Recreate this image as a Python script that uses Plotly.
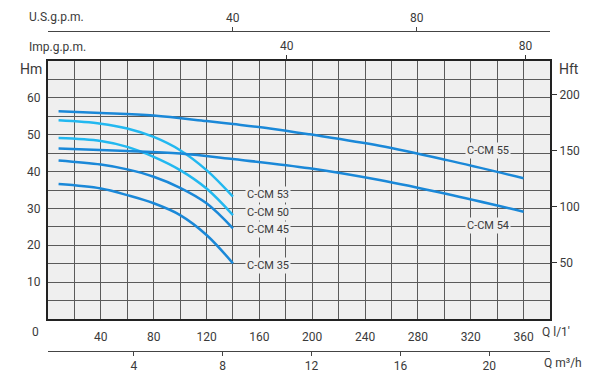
import plotly.graph_objects as go

# ---- data (Q in l/min, H in m) ----
q_short = [8, 40, 60, 80, 100, 120, 140]
h_ccm53 = [53.9, 53.0, 51.7, 49.4, 45.8, 40.4, 33.2]
h_ccm50 = [49.1, 48.3, 46.7, 44.0, 40.4, 35.4, 28.2]
h_ccm45 = [43.0, 41.9, 40.6, 38.6, 35.6, 31.4, 24.6]
h_ccm35 = [36.6, 35.4, 33.6, 31.4, 28.2, 22.8, 15.1]

q_ccm55 = [8, 40, 80, 120, 140, 168, 198, 251, 302, 360]
h_ccm55 = [56.35, 55.9, 55.2, 53.7, 52.9, 51.7, 50.1, 47.0, 43.1, 38.2]
q_ccm54 = [8, 60, 100, 140, 198, 251, 302, 360]
h_ccm54 = [46.25, 45.6, 44.9, 43.4, 40.9, 37.7, 33.9, 29.1]

q_ticks = list(range(0, 381, 20))
q_labels = [str(v) if (v % 40 == 0 and 0 < v <= 360) else "" for v in q_ticks]
h_ticks = list(range(0, 71, 5))
h_labels = [str(v) if (v % 10 == 0 and 10 <= v <= 60) else "" for v in h_ticks]
hft_ticks = [50, 100, 150, 200]
us_ticks = [40, 80]
imp_ticks = [40, 80]
m3h_ticks = [4, 8, 12, 16, 20]

# curve label positions (Q, H)
labels = [
    ("C-CM 53", 166.5, 33.9),
    ("C-CM 50", 166.5, 28.8),
    ("C-CM 45", 166.5, 24.4),
    ("C-CM 35", 166.5, 14.6),
    ("C-CM 55", 333, 45.8),
    ("C-CM 54", 333, 25.5),
]

DARK = "#1a88d8"
LIGHT = "#22b8f0"
BG = "#efefef"
TXT = "#3a3a3a"
FONT = "Roboto"

fig = go.Figure()
series = [
    (q_ccm55, h_ccm55, DARK),
    (q_short, h_ccm53, LIGHT),
    (q_short, h_ccm50, LIGHT),
    (q_ccm54, h_ccm54, DARK),
    (q_short, h_ccm45, DARK),
    (q_short, h_ccm35, DARK),
]
for q, h, c in series:
    fig.add_trace(go.Scatter(x=q, y=h, mode="lines",
                             line=dict(color=c, width=2.5, shape="spline"),
                             hoverinfo="skip", showlegend=False))

# empty traces so that the secondary scales are drawn
for xa, ya in [("x2", "y"), ("x3", "y"), ("x4", "y"), ("x", "y2")]:
    fig.add_trace(go.Scatter(x=[], y=[], xaxis=xa, yaxis=ya, mode="lines",
                             hoverinfo="skip", showlegend=False))

for text, q, h in labels:
    fig.add_annotation(x=q, y=h, xref="x", yref="y", text=text, showarrow=False,
                       font=dict(family=FONT, size=11, color=TXT),
                       bgcolor=BG, borderpad=1)

ydom = [(351 - 319) / 320, (351 - 61) / 320]

fig.update_layout(
    width=600, height=375,
    margin=dict(l=48, r=50, t=31, b=24, autoexpand=False),
    paper_bgcolor="white", plot_bgcolor=BG,
    font=dict(family=FONT, size=12, color=TXT),
    showlegend=False,
    xaxis=dict(range=[0, 380], tickvals=q_ticks, ticktext=q_labels,
               showgrid=True, gridcolor="#5a5a5a", gridwidth=1,
               showline=True, mirror=True, linecolor="#222", linewidth=2,
               ticks="outside", ticklen=6, tickcolor="rgba(0,0,0,0)",
               zeroline=False, anchor="y", fixedrange=True, automargin=False),
    yaxis=dict(domain=ydom, range=[0, 70], tickvals=h_ticks, ticktext=h_labels,
               showgrid=True, gridcolor="#5a5a5a", gridwidth=1,
               showline=True, mirror=True, linecolor="#222", linewidth=2,
               ticks="outside", ticklen=3, tickcolor="rgba(0,0,0,0)",
               zeroline=False, fixedrange=True, automargin=False),
    yaxis2=dict(overlaying="y", side="right", anchor="x", range=[0, 70 * 3.28084],
                tickvals=hft_ticks, ticks="outside", ticklen=6, tickcolor="#333",
                showgrid=False, zeroline=False, showline=False, fixedrange=True,
                automargin=False),
    xaxis2=dict(overlaying="x", anchor="free", position=1, side="top",
                range=[-0.2, 109], tickvals=us_ticks, ticks="outside", ticklen=4,
                tickcolor="#444", showline=True, linecolor="#444", linewidth=1,
                showgrid=False, zeroline=False, fixedrange=True, automargin=False),
    xaxis3=dict(overlaying="x", anchor="y", side="top",
                range=[0, 84.1], tickvals=imp_ticks, ticks="outside", ticklen=5,
                tickcolor="#333", showline=False,
                showgrid=False, zeroline=False, fixedrange=True, automargin=False),
    xaxis4=dict(overlaying="x", anchor="free", position=0, side="bottom",
                range=[0.14, 22.73], tickvals=m3h_ticks, ticks="outside", ticklen=4,
                tickcolor="#444", showline=True, linecolor="#444", linewidth=1,
                showgrid=False, zeroline=False, fixedrange=True, automargin=False),
)

def note(text, x, y, size=12, xanchor="left"):
    fig.add_annotation(x=x, y=y, xref="paper", yref="paper", text=text,
                       showarrow=False, xanchor=xanchor, yanchor="middle",
                       font=dict(family=FONT, size=size, color=TXT))

# convert pixel positions to paper coords of the plot area (x:48..550, y:31..351)
def px(xp):
    return (xp - 48) / 502

def py(yp):
    return (351 - yp) / 320

note("U.S.g.p.m.", px(27), py(17))
note("Imp.g.p.m.", px(27), py(47))
note("Hm", px(44), py(69), size=14, xanchor="right")
note("Hft", px(557), py(69), size=14)
note("0", px(35), py(332), xanchor="center")
note("Q l/1'", px(540), py(332))
note("Q m³/h", px(542), py(363))

fig.write_html("out.html", post_script="document.body.style.margin='0';",
               config={"displayModeBar": False})
